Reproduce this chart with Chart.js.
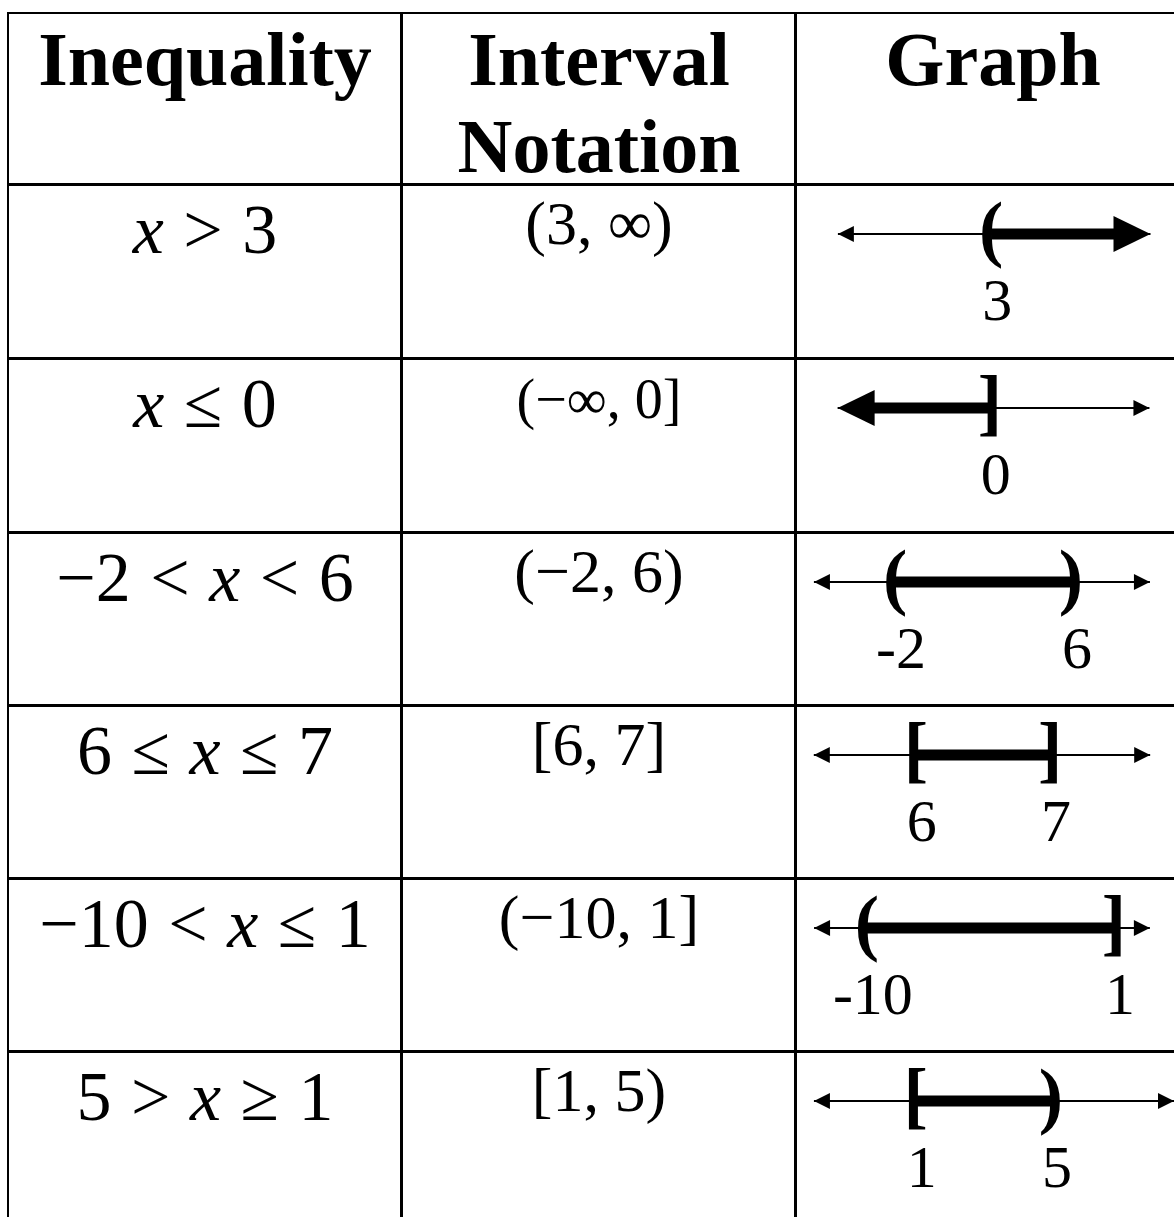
<!DOCTYPE html>
<html>
<head>
<meta charset="utf-8">
<script src="https://cdn.jsdelivr.net/npm/chart.js@4.4.1/dist/chart.umd.min.js"></script>
<style>
  html, body { margin: 0; padding: 0; background: #fff; }
  body { width: 1174px; height: 1217px; overflow: hidden; position: relative; }
  .rule { position: absolute; background: #000; }
  .cell {
    position: absolute; text-align: center; white-space: nowrap; color: #000;
    font-family: "Liberation Serif", "Times New Roman", serif;
  }
  .head { font-weight: bold; font-size: 76px; line-height: 87px; top: 16px; }
  .ineq { word-spacing: 2px; }
  .cell i { font-style: italic; }
  canvas { position: absolute; }
</style>
</head>
<body>
<script>
// table content
const headers = ['Inequality', 'Interval<br>Notation', 'Graph'];
const inequalities = ['x > 3', 'x ≤ 0', '−2 < x < 6', '6 ≤ x ≤ 7', '−10 < x ≤ 1', '5 > x ≥ 1'];
const intervals = ['(3, ∞)', '(−∞, 0]', '(−2, 6)', '[6, 7]', '(−10, 1]', '[1, 5)'];

// number line data
const lowerBounds = [3, -Infinity, -2, 6, -10, 1];
const upperBounds = [Infinity, 0, 6, 7, 1, 5];
const lowerSymbols = ['(', '', '(', '[', '(', '['];
const upperSymbols = ['', ']', ')', ']', ']', ')'];
const lowerLabels = ['3', '', '-2', '6', '-10', '1'];
const upperLabels = ['', '0', '6', '7', '1', '5'];
// x range of each number line cell, and where the drawn line's arrows end
const axisMin = [-5, -8, -6.55, 5.1, -13.2, -2.57];
const axisMax = [10.5, 7.6, 10.73, 7.93, 3.72, 8.67];
const lineFrom = [-3.25, -6.25, -5.69, 5.24, -12.35, -2.01];
const lineTo = [9.5, 6.55, 9.59, 7.745, 2.6, 8.64];

// layout
const rowLines = [183, 357, 531, 704, 877, 1050];
const colLeft = [9, 403, 797];
const colWidth = 392;
const CANVAS_X = 795, CANVAS_W = 380, CANVAS_H = 173;
const LINE_Y = 51;

function rule(x, y, w, h) {
  const d = document.createElement('div');
  d.className = 'rule';
  Object.assign(d.style, { left: x + 'px', top: y + 'px', width: w + 'px', height: h + 'px' });
  document.body.appendChild(d);
}

function cell(html, col, top, size, extra) {
  const d = document.createElement('div');
  d.className = 'cell' + (extra ? ' ' + extra : '');
  d.innerHTML = html;
  d.style.left = colLeft[col] + 'px';
  d.style.width = colWidth + 'px';
  if (top !== null) d.style.top = top + 'px';
  if (size) { d.style.fontSize = size + 'px'; d.style.lineHeight = size + 'px'; }
  document.body.appendChild(d);
}

// grid
rule(7, 12, 1180, 2);
rowLines.forEach(y => rule(7, y, 1180, 3));
rule(7, 12, 2, 1220);
rule(400, 12, 3, 1220);
rule(794, 12, 3, 1220);

headers.forEach((h, c) => cell(h, c, null, 0, 'head'));

inequalities.forEach((s, r) => {
  const html = s.replace(/</g, '&lt;').replace('x', '<i>x</i>');
  const size = 70;
  cell(html, 0, rowLines[r] + 71 - 0.8375 * size, size, 'ineq');
});

intervals.forEach((s, r) => {
  const size = r === 1 ? 56 : 62;
  cell(s, 1, rowLines[r] + 61 - 0.8375 * size, size);
});

function arrow(ctx, tip, y, dir, big) {
  const len = big ? 37 : 16;
  const half = big ? 18 : 8;
  ctx.beginPath();
  ctx.moveTo(tip, y);
  ctx.lineTo(tip - dir * len, y - half);
  ctx.lineTo(tip - dir * len, y + half);
  ctx.closePath();
  ctx.fill();
}

const numberLine = {
  id: 'numberLine',
  afterDatasetsDraw(chart, args, opts) {
    const { ctx, scales: { x, y } } = chart;
    const i = opts.row;
    const y0 = y.getPixelForValue(0);
    ctx.save();
    ctx.fillStyle = '#000';
    arrow(ctx, x.getPixelForValue(lineFrom[i]), y0, -1, lowerBounds[i] === -Infinity);
    arrow(ctx, x.getPixelForValue(lineTo[i]), y0, 1, upperBounds[i] === Infinity);

    ctx.textAlign = 'center';
    ctx.textBaseline = 'alphabetic';
    ctx.font = 'bold 73px "Liberation Serif"';
    if (lowerSymbols[i]) ctx.fillText(lowerSymbols[i], x.getPixelForValue(lowerBounds[i]), y0 + 19);
    if (upperSymbols[i]) ctx.fillText(upperSymbols[i], x.getPixelForValue(upperBounds[i]), y0 + 19);

    ctx.font = '60px "Liberation Serif"';
    if (lowerLabels[i]) ctx.fillText(lowerLabels[i], x.getPixelForValue(lowerBounds[i]) + 6, y0 + 86);
    if (upperLabels[i]) ctx.fillText(upperLabels[i], x.getPixelForValue(upperBounds[i]) + 6, y0 + 86);
    ctx.restore();
  }
};

rowLines.forEach((top, i) => {
  const canvas = document.createElement('canvas');
  canvas.width = CANVAS_W;
  canvas.height = CANVAS_H;
  canvas.style.left = CANVAS_X + 'px';
  canvas.style.top = top + 'px';
  document.body.appendChild(canvas);

  const upp = (axisMax[i] - axisMin[i]) / CANVAS_W;
  const lo = lowerBounds[i] === -Infinity ? lineFrom[i] + 30 * upp : lowerBounds[i];
  const hi = upperBounds[i] === Infinity ? lineTo[i] - 30 * upp : upperBounds[i];

  new Chart(canvas.getContext('2d'), {
    type: 'scatter',
    data: {
      datasets: [
        {
          data: [{ x: lineFrom[i], y: 0 }, { x: lineTo[i], y: 0 }],
          showLine: true, borderColor: '#000', borderWidth: 2, pointRadius: 0
        },
        {
          data: [{ x: lo, y: 0 }, { x: hi, y: 0 }],
          showLine: true, borderColor: '#000', borderWidth: 11, pointRadius: 0,
          borderCapStyle: 'butt'
        }
      ]
    },
    options: {
      responsive: false,
      animation: false,
      events: [],
      layout: { padding: 0 },
      plugins: {
        legend: { display: false },
        tooltip: { enabled: false },
        numberLine: { row: i }
      },
      scales: {
        x: { type: 'linear', min: axisMin[i], max: axisMax[i], display: false },
        y: { type: 'linear', min: 1 - CANVAS_H / LINE_Y, max: 1, display: false }
      }
    },
    plugins: [numberLine]
  });
});
</script>
</body>
</html>
